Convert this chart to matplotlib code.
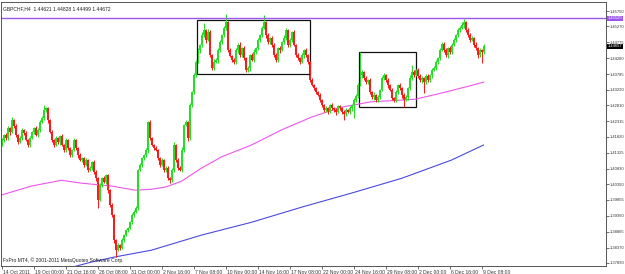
import matplotlib
matplotlib.use("Agg")
import matplotlib.pyplot as plt
import matplotlib.transforms as mtransforms
from matplotlib.patches import Rectangle

plt.rcParams["font.family"] = ["Liberation Sans", "DejaVu Sans"]

# H4 closes, GBPCHF, 14 Oct - 9 Dec 2011
first_open = 1.4160
closes = [
    1.4172, 1.4188, 1.4178, 1.4210, 1.4197, 1.4235, 1.4216, 1.4188, 1.4166, 1.4178, 1.4204, 1.4194, 1.4172, 1.4157, 1.4178, 1.4197,
    1.4210, 1.4188, 1.4204, 1.4228, 1.4241, 1.4266, 1.4272,
    1.4235, 1.4197, 1.4172, 1.4157, 1.4178,
    1.4166, 1.4185, 1.4157, 1.4141, 1.4172, 1.4147, 1.4125, 1.4141,
    1.4172, 1.4147, 1.4125, 1.4110, 1.4116,
    1.4094, 1.4110, 1.4079, 1.4085, 1.4104, 1.4072, 1.4053, 1.3985,
    1.4032, 1.4053, 1.4041, 1.4063, 1.4016,
    1.3969, 1.3938, 1.3860,
    1.3829, 1.3845, 1.3835, 1.3860,
    1.3876, 1.3891, 1.3898, 1.3916, 1.3938, 1.3948, 1.3960,
    1.4079, 1.4094,
    1.4116, 1.4125, 1.4141,
    1.4228, 1.4178,
    1.4157, 1.4147, 1.4141,
    1.4116, 1.4094, 1.4110, 1.4079, 1.4085, 1.4053,
    1.4047, 1.4079, 1.4157,
    1.4110, 1.4085, 1.4079,
    1.4141, 1.4219, 1.4228,
    1.4178,
    1.4281, 1.4322, 1.4375,
    1.4416, 1.4453, 1.4469,
    1.4500, 1.4515, 1.4484, 1.4509,
    1.4437, 1.4397, 1.4416,
    1.4422, 1.4453, 1.4478, 1.4500, 1.4522,
    1.4540,
    1.4453, 1.4434, 1.4422, 1.4416,
    1.4453, 1.4469, 1.4437, 1.4459, 1.4428,
    1.4391, 1.4397,
    1.4437, 1.4422, 1.4447,
    1.4459, 1.4484, 1.4500, 1.4522, 1.4540,
    1.4500, 1.4478, 1.4490, 1.4469,
    1.4437, 1.4422, 1.4459, 1.4453,
    1.4478, 1.4490, 1.4515, 1.4469, 1.4484,
    1.4509, 1.4469, 1.4437, 1.4428,
    1.4416, 1.4437, 1.4453,
    1.4437, 1.4416, 1.4359,
    1.4344, 1.4334, 1.4322, 1.4313,
    1.4297, 1.4281, 1.4266, 1.4272, 1.4260,
    1.4281, 1.4272, 1.4266, 1.4260, 1.4278, 1.4272, 1.4260, 1.4253,
    1.4266, 1.4260, 1.4272, 1.4281, 1.4297, 1.4309,
    1.4344, 1.4375, 1.4384,
    1.4366, 1.4353, 1.4359,
    1.4322, 1.4306,
    1.4313, 1.4297, 1.4306, 1.4328,
    1.4366, 1.4375, 1.4359,
    1.4344, 1.4328, 1.4303,
    1.4297, 1.4322, 1.4344, 1.4334,
    1.4313, 1.4297, 1.4306,
    1.4334, 1.4366, 1.4384,
    1.4375, 1.4391, 1.4372,
    1.4359, 1.4366, 1.4353, 1.4372, 1.4359, 1.4375,
    1.4391, 1.4397, 1.4416, 1.4428, 1.4453,
    1.4472,
    1.4453, 1.4437, 1.4459, 1.4447,
    1.4469, 1.4484, 1.4500,
    1.4515, 1.4522, 1.4531, 1.4540,
    1.4515, 1.4500, 1.4484, 1.4490, 1.4469,
    1.4459, 1.4437, 1.4453, 1.4447, 1.4465,
]

# wick lengths in pips above / below the body
upper_wick = [
    6, 4, 8, 5, 3, 10, 4, 6, 3, 7, 5, 4, 8, 3, 6, 5,
    4, 7, 5, 6, 8, 9, 3, 5, 4, 6, 3, 8, 5, 4, 7, 3,
    6, 4, 5, 3, 8, 5, 4, 6, 3, 5, 7, 4, 6, 3, 5, 8,
    4, 6, 5, 8, 3, 5, 4, 6, 3, 4, 5, 3, 6, 4, 5, 3,
    4, 6, 5, 7, 4, 6, 5, 3, 8, 4, 6, 5, 3, 7, 4, 5,
    6, 4, 7, 5, 3, 6, 8, 4, 5, 6, 9, 5, 7, 4, 6, 5,
    8, 5, 6, 4, 9, 7, 5, 10, 6, 4, 8, 5, 6, 7, 4, 5,
    12, 5, 7, 4, 6, 8, 5, 9, 4, 6, 5, 7, 4, 6, 8, 5,
    6, 4, 7, 9, 5, 6, 4, 8, 5, 7, 4, 6, 5, 9, 6, 4,
    7, 5, 6, 4, 8, 5, 6, 4, 7, 5, 4, 6, 3, 5, 4, 6,
    5, 3, 6, 4, 5, 7, 4, 6, 3, 5, 4, 6, 5, 4, 7, 5,
    6, 8, 5, 14, 6, 5, 7, 4, 6, 5, 8, 4, 6, 5, 7, 6,
    5, 7, 4, 6, 5, 8, 4, 6, 5, 7, 6, 4, 8, 5, 6, 4,
    6, 5, 7, 4, 6, 5, 4, 7, 5, 6, 4, 8, 6, 5, 7, 4,
    6, 5, 7, 4, 8, 5, 9, 6, 4, 7, 5, 6, 4, 8, 5, 6,
    5, 7,
]
lower_wick = [
    5, 7, 4, 6, 8, 3, 6, 5, 7, 4, 6, 5, 4, 7, 5, 3,
    6, 4, 5, 7, 3, 5, 6, 8, 4, 6, 7, 3, 5, 8, 4, 6,
    5, 7, 4, 6, 3, 5, 8, 4, 6, 5, 3, 7, 4, 6, 5, 8,
    6, 4, 7, 3, 5, 8, 5, 4, 9, 6, 4, 5, 3, 7, 4, 5,
    3, 5, 6, 4, 7, 3, 5, 6, 4, 8, 5, 3, 6, 4, 7, 5,
    4, 7, 5, 6, 8, 4, 6, 5, 7, 3, 5, 6, 4, 8, 5, 6,
    5, 7, 4, 8, 6, 5, 9, 4, 6, 7, 5, 4, 8, 6, 5, 7,
    5, 6, 4, 7, 5, 6, 8, 4, 5, 7, 6, 5, 8, 4, 6, 5,
    7, 5, 6, 4, 8, 5, 6, 7, 4, 6, 5, 8, 4, 6, 5, 7,
    5, 6, 4, 7, 5, 6, 4, 8, 5, 6, 7, 4, 6, 5, 4, 7,
    4, 6, 5, 7, 4, 5, 6, 8, 4, 5, 6, 9, 5, 4, 6, 8,
    7, 5, 6, 4, 8, 5, 6, 7, 5, 4, 8, 6, 5, 7, 4, 6,
    5, 8, 4, 6, 7, 5, 6, 4, 8, 5, 4, 9, 6, 5, 7, 4,
    6, 5, 8, 4, 6, 7, 5, 8, 4, 6, 5, 7, 4, 6, 5, 8,
    5, 6, 4, 7, 5, 6, 4, 8, 5, 6, 7, 4, 6, 5, 8, 6,
    5, 7,
]

# wicks that stick out further
spike_highs = {21: 1.4281, 101: 1.4537, 112: 1.4565, 131: 1.4562, 179: 1.4447,
               205: 1.4406, 231: 1.4550}
spike_lows = {48: 1.3960, 57: 1.3807, 171: 1.4235, 176: 1.4240, 201: 1.4275,
              211: 1.4319, 240: 1.4413}

# moving averages, sampled at bar numbers
ma_pink_bars = [0, 15, 30, 40, 55, 67, 75, 82, 90, 100, 110, 125, 140, 155, 170, 185, 200, 207, 220, 232, 241]
ma_pink = [1.4001, 1.4029, 1.4047, 1.4038, 1.4029, 1.4016, 1.4019, 1.4026, 1.4044, 1.4085, 1.4120,
           1.4157, 1.4204, 1.4244, 1.4275, 1.4292, 1.4297, 1.4300, 1.4319, 1.4338, 1.4353]
ma_blue_bars = [30, 45, 56, 75, 100, 125, 150, 175, 200, 225, 241]
ma_blue = [1.3767, 1.3792, 1.3807, 1.3829, 1.3876, 1.3916, 1.3963, 1.4007, 1.4053, 1.4110, 1.4157]

level_line = 1.45520
last_price = 1.44657
# rectangles: (first bar, last bar, low, high)
boxes = [(97.5, 154.0, 1.4378, 1.4547), (178.5, 207.0, 1.4275, 1.4447)]

y_ticks = [1.45750, 1.45270, 1.44775, 1.44280, 1.43785, 1.43290, 1.42810, 1.42315, 1.41820,
           1.41325, 1.40830, 1.40350, 1.39855, 1.39360, 1.38865, 1.38370, 1.37890]
x_tick_bars = [0, 16, 32, 48, 64, 80, 96, 112, 128, 144, 160, 176, 192, 208, 224, 240]
x_tick_labels = ["14 Oct 2011", "19 Oct 00:00", "21 Oct 16:00", "26 Oct 08:00", "31 Oct 00:00",
                 "2 Nov 16:00", "7 Nov 08:00", "10 Nov 00:00", "14 Nov 16:00", "17 Nov 08:00",
                 "22 Nov 00:00", "24 Nov 16:00", "29 Nov 08:00", "2 Dec 00:00", "6 Dec 16:00", "9 Dec 08:00"]


def main():
    pip = 0.0001
    opens = [first_open] + closes[:-1]
    n = len(closes)
    bars = list(range(n))
    tops = [max(o, c) for o, c in zip(opens, closes)]
    bottoms = [min(o, c) for o, c in zip(opens, closes)]
    highs = [t + w * pip for t, w in zip(tops, upper_wick)]
    lows = [b - w * pip for b, w in zip(bottoms, lower_wick)]
    for i, v in spike_highs.items():
        highs[i] = max(highs[i], v)
    for i, v in spike_lows.items():
        lows[i] = min(lows[i], v)

    colors = ["#22e022" if c >= o else "#ff1a1a" for o, c in zip(opens, closes)]

    fig = plt.figure(figsize=(6.25, 2.74), dpi=100)
    ax = fig.add_axes([1 / 625, 8 / 274, 605 / 625, 264 / 274])

    # moving averages
    ax.plot(ma_pink_bars, ma_pink, color="#ee55ee", lw=0.8)
    ax.plot(ma_blue_bars, ma_blue, color="#4a4ae0", lw=0.8)

    # candles
    ax.vlines(bars, lows, highs, colors=colors, lw=0.72)
    bodies = [t - b for t, b in zip(tops, bottoms)]
    ax.bar(bars, bodies, bottom=bottoms, width=0.75, color=colors, linewidth=0)

    # horizontal level + boxes
    ax.axhline(level_line, color="#9a55ee", lw=1.0)
    for x0, x1, lo, hi in boxes:
        ax.add_patch(Rectangle((x0, lo), x1 - x0, hi - lo, fill=False, ec="#111111", lw=0.9))

    ax.set_xlim(-0.25, 302.25)
    ax.set_ylim(1.37796, 1.46031)

    # right-hand price scale
    ax.yaxis.tick_right()
    ax.set_yticks(y_ticks)
    ax.set_yticklabels(["%.5f" % v for v in y_ticks], fontsize=3.0, color="#222222")
    ax.tick_params(axis="y", length=1.8, width=0.5, pad=0.8, colors="#333333")

    ax.set_xticks(x_tick_bars)
    ax.set_xticklabels(x_tick_labels, fontsize=3.6, color="#222222")
    ax.tick_params(axis="x", length=2.5, width=0.5, pad=0.3, colors="#333333")
    offset = mtransforms.ScaledTranslation(1.5 / 100, 0, fig.dpi_scale_trans)
    for lbl in ax.get_xticklabels():
        lbl.set_horizontalalignment("left")
        lbl.set_transform(lbl.get_transform() + offset)

    for s in ax.spines.values():
        s.set_color("#555555")
        s.set_linewidth(0.7)

    # price tags on the scale
    trans = mtransforms.blended_transform_factory(ax.transAxes, ax.transData)
    ax.text(1.003, level_line, "1.45520", transform=trans, fontsize=3.0, color="white",
            va="center", ha="left", bbox=dict(boxstyle="square,pad=0.12", fc="#9a55ee", ec="none"))
    ax.text(1.003, last_price, "1.44657", transform=trans, fontsize=3.0, color="white",
            va="center", ha="left", bbox=dict(boxstyle="square,pad=0.12", fc="black", ec="none"))

    ax.text(0.004, 0.985, "GBPCHF,H4  1.44621 1.44828 1.44499 1.44672", transform=ax.transAxes,
            fontsize=3.6, color="#222222", va="top", ha="left")
    ax.text(0.004, 0.012, "FxPro MT4, \u00a9 2001-2011 MetaQuotes Software Corp.", transform=ax.transAxes,
            fontsize=3.6, color="#222222", va="bottom", ha="left")

    fig.savefig("out.png", dpi=100, facecolor="white")


if __name__ == "__main__":
    main()
